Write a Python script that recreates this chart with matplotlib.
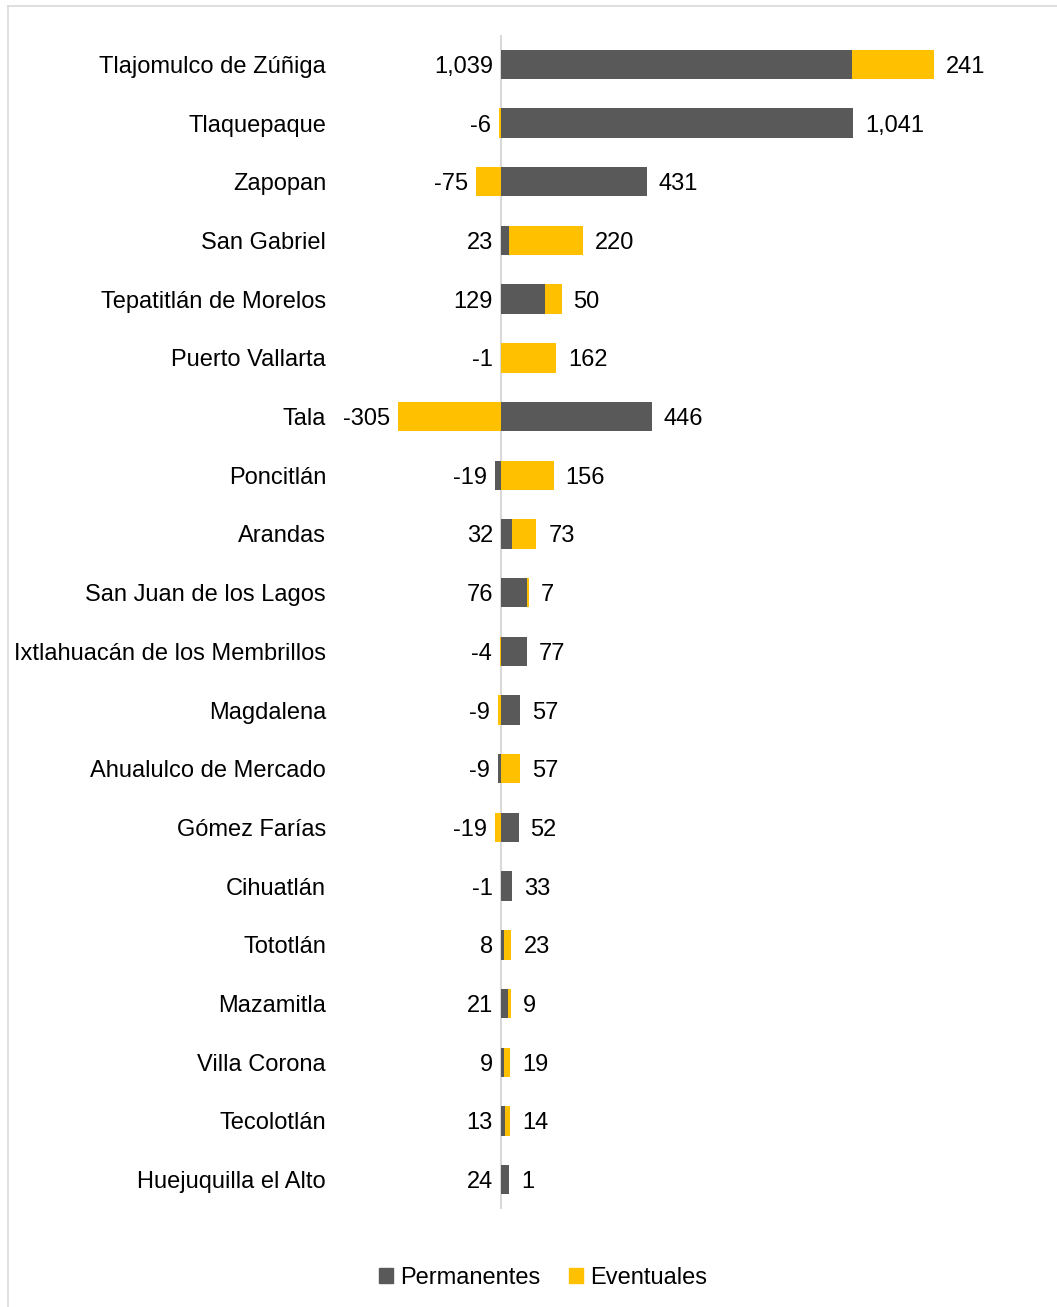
import matplotlib
matplotlib.use("Agg")
import matplotlib.pyplot as plt
from matplotlib.lines import Line2D
from matplotlib.patches import Patch

municipios = [
    "Tlajomulco de Zúñiga", "Tlaquepaque", "Zapopan", "San Gabriel",
    "Tepatitlán de Morelos", "Puerto Vallarta", "Tala", "Poncitlán",
    "Arandas", "San Juan de los Lagos", "Ixtlahuacán de los Membrillos",
    "Magdalena", "Ahualulco de Mercado", "Gómez Farías", "Cihuatlán",
    "Tototlán", "Mazamitla", "Villa Corona", "Tecolotlán", "Huejuquilla el Alto",
]
permanentes = [1039, 1041, 431, 23, 129, -1, 446, -19, 32, 76, 77, 57, -9, 52, 33, 8, 21, 9, 13, 24]
eventuales = [241, -6, -75, 220, 50, 162, -305, 156, 73, 7, -4, -9, 57, -19, -1, 23, 9, 19, 14, 1]

GRAY = "#595959"
GOLD = "#FFC000"
FONT = "Liberation Sans"
W, H = 1057, 1307

fig = plt.figure(figsize=(W / 100, H / 100), dpi=100)
# chart border (Excel chart area)
fig.add_artist(Line2D([8 / W, 8 / W], [0, 1 - 6 / H], transform=fig.transFigure, color="#D9D9D9", lw=1.2))
fig.add_artist(Line2D([8 / W, 1], [1 - 6 / H, 1 - 6 / H], transform=fig.transFigure, color="#D9D9D9", lw=1.2))

ax = fig.add_axes([340 / W, (H - 1209) / H, 660 / W, (1209 - 35) / H])
scale = 0.338  # px per unit
ax.set_xlim(-(501 - 340) / scale, (1000 - 501) / scale)
ax.set_ylim(len(municipios) - 0.5, -0.5)

y = list(range(len(municipios)))
pos_base = [0.0] * len(y)
neg_base = [0.0] * len(y)
for vals, col, name in [(permanentes, GRAY, "Permanentes"), (eventuales, GOLD, "Eventuales")]:
    lefts = []
    for i, v in enumerate(vals):
        if v >= 0:
            lefts.append(pos_base[i])
            pos_base[i] += v
        else:
            lefts.append(neg_base[i])
            neg_base[i] += v
    ax.barh(y, vals, left=lefts, height=0.5, color=col, label=name, zorder=2)

ax.axvline(0, color="#D9D9D9", lw=1.5, zorder=1)

pad = 10 / scale
for i in y:
    p, e = permanentes[i], eventuales[i]
    if p < 0 or e < 0:
        left_v, right_v = (p, e) if p < 0 else (e, p)
    else:
        left_v, right_v = p, e
    ax.text(neg_base[i] - pad * 0.8, i, f"{left_v:,}", ha="right", va="center_baseline",
            fontsize=17, family=FONT, color="#000000")
    ax.text(pos_base[i] + pad * 1.2, i, f"{right_v:,}", ha="left", va="center_baseline",
            fontsize=17, family=FONT, color="#000000")

ax.set_yticks(y)
ax.set_yticklabels(municipios, fontsize=17, family=FONT)
ax.tick_params(axis="y", length=0, pad=10)
ax.set_xticks([])
for s in ax.spines.values():
    s.set_visible(False)

handles = [Patch(color=GRAY, label="Permanentes"), Patch(color=GOLD, label="Eventuales")]
fig.legend(handles=handles, loc="center", bbox_to_anchor=(543 / W, 1 - 1278 / H), ncol=2,
           frameon=False, prop={"family": FONT, "size": 17}, handlelength=0.6, handleheight=0.6,
           handletextpad=0.3, columnspacing=1.2)

fig.savefig("out.png", dpi=100)
